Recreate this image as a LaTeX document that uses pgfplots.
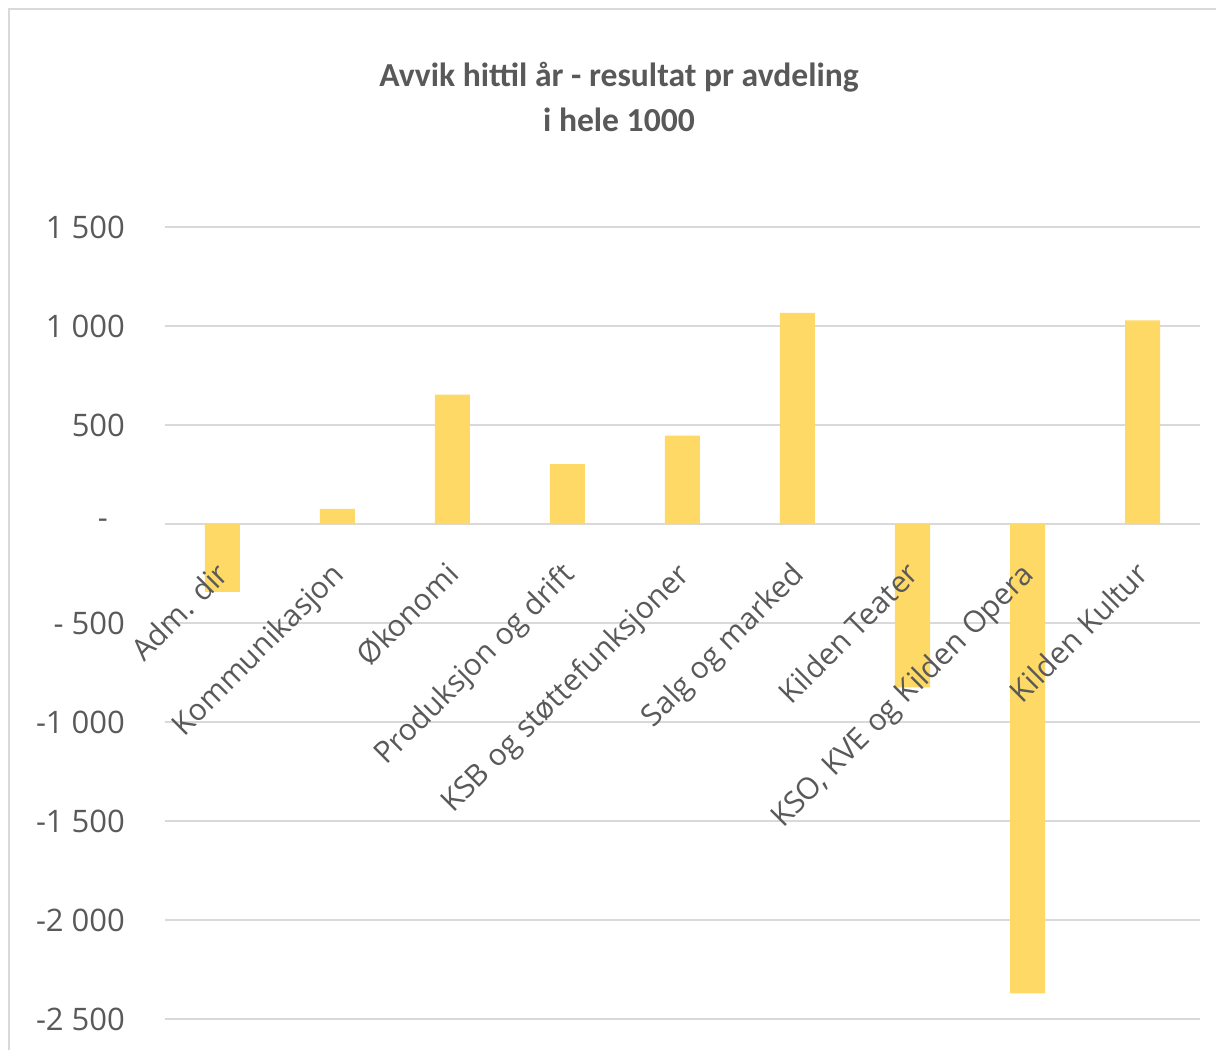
\documentclass[border=0pt]{standalone}
\usepackage{pgfplots}
\pgfplotsset{compat=1.18}
\usepackage{fontspec}
\setmainfont{Carlito}
\newfontfamily\axfont{Open Sans}
\definecolor{txt}{HTML}{595959}
\definecolor{grd}{HTML}{D9D9D9}
\definecolor{bar}{HTML}{FFD966}
\pgfplotsset{
  common/.style={
    at={(0pt,0pt)}, anchor=south west,
    scale only axis, width=517.5pt, height=396pt,
    xmin=-0.5, xmax=8.5, ymin=-2500, ymax=1500,
    axis x line=middle, axis y line=left,
    x axis line style={grd, line width=0.75pt, -},
    y axis line style={draw=none},
    major tick length=0pt,
    xtick={0,...,8},
    ytick={-2500,-2000,...,1500},
    hide obscured y ticks=false,
  }
}
\begin{document}
\begin{tikzpicture}
\useasboundingbox (-82.5pt,-15.5pt) rectangle (525.5pt,509.5pt);
\draw[grd, line width=1pt] (-78pt,-15.5pt) -- (-78pt,505pt) -- (525.5pt,505pt);
\begin{axis}[
  common,
  ybar, bar width=17.5pt,
  xticklabels={},
  yticklabels={-2 500,-2 000,-1 500,-1 000,- 500,-\kern8.5pt,500,1 000,1 500},
  yticklabel style={font=\axfont\fontsize{15.5pt}{18pt}\selectfont, text=txt, xshift=-16.5pt},
  ymajorgrids, grid style={grd, line width=0.75pt},
]
\addplot[fill=bar, draw=none] coordinates {
  (0,-343) (1,76) (2,654) (3,303) (4,446) (5,1066) (6,-825) (7,-2371) (8,1028)
};
\end{axis}
\begin{axis}[
  common,
  x axis line style={draw=none},
  yticklabels={},
  xticklabels={Adm. dir, Kommunikasjon, Økonomi, Produksjon og drift, KSB og støttefunksjoner, Salg og marked, Kilden Teater, {KSO, KVE og Kilden Opera}, Kilden Kultur},
  xticklabel style={font=\axfont\fontsize{15pt}{18pt}\selectfont, text=txt, yshift=-15pt, xshift=-4pt, rotate=45, anchor=north east, inner sep=2pt},
]
\end{axis}
\node[anchor=base, text=txt, font=\fontsize{16.8pt}{20pt}\selectfont\bfseries] at (227pt,466pt) {Avvik hittil år - resultat pr avdeling};
\node[anchor=base, text=txt, font=\fontsize{16.8pt}{20pt}\selectfont\bfseries] at (227pt,443.5pt) {i hele 1000};
\end{tikzpicture}
\end{document}
